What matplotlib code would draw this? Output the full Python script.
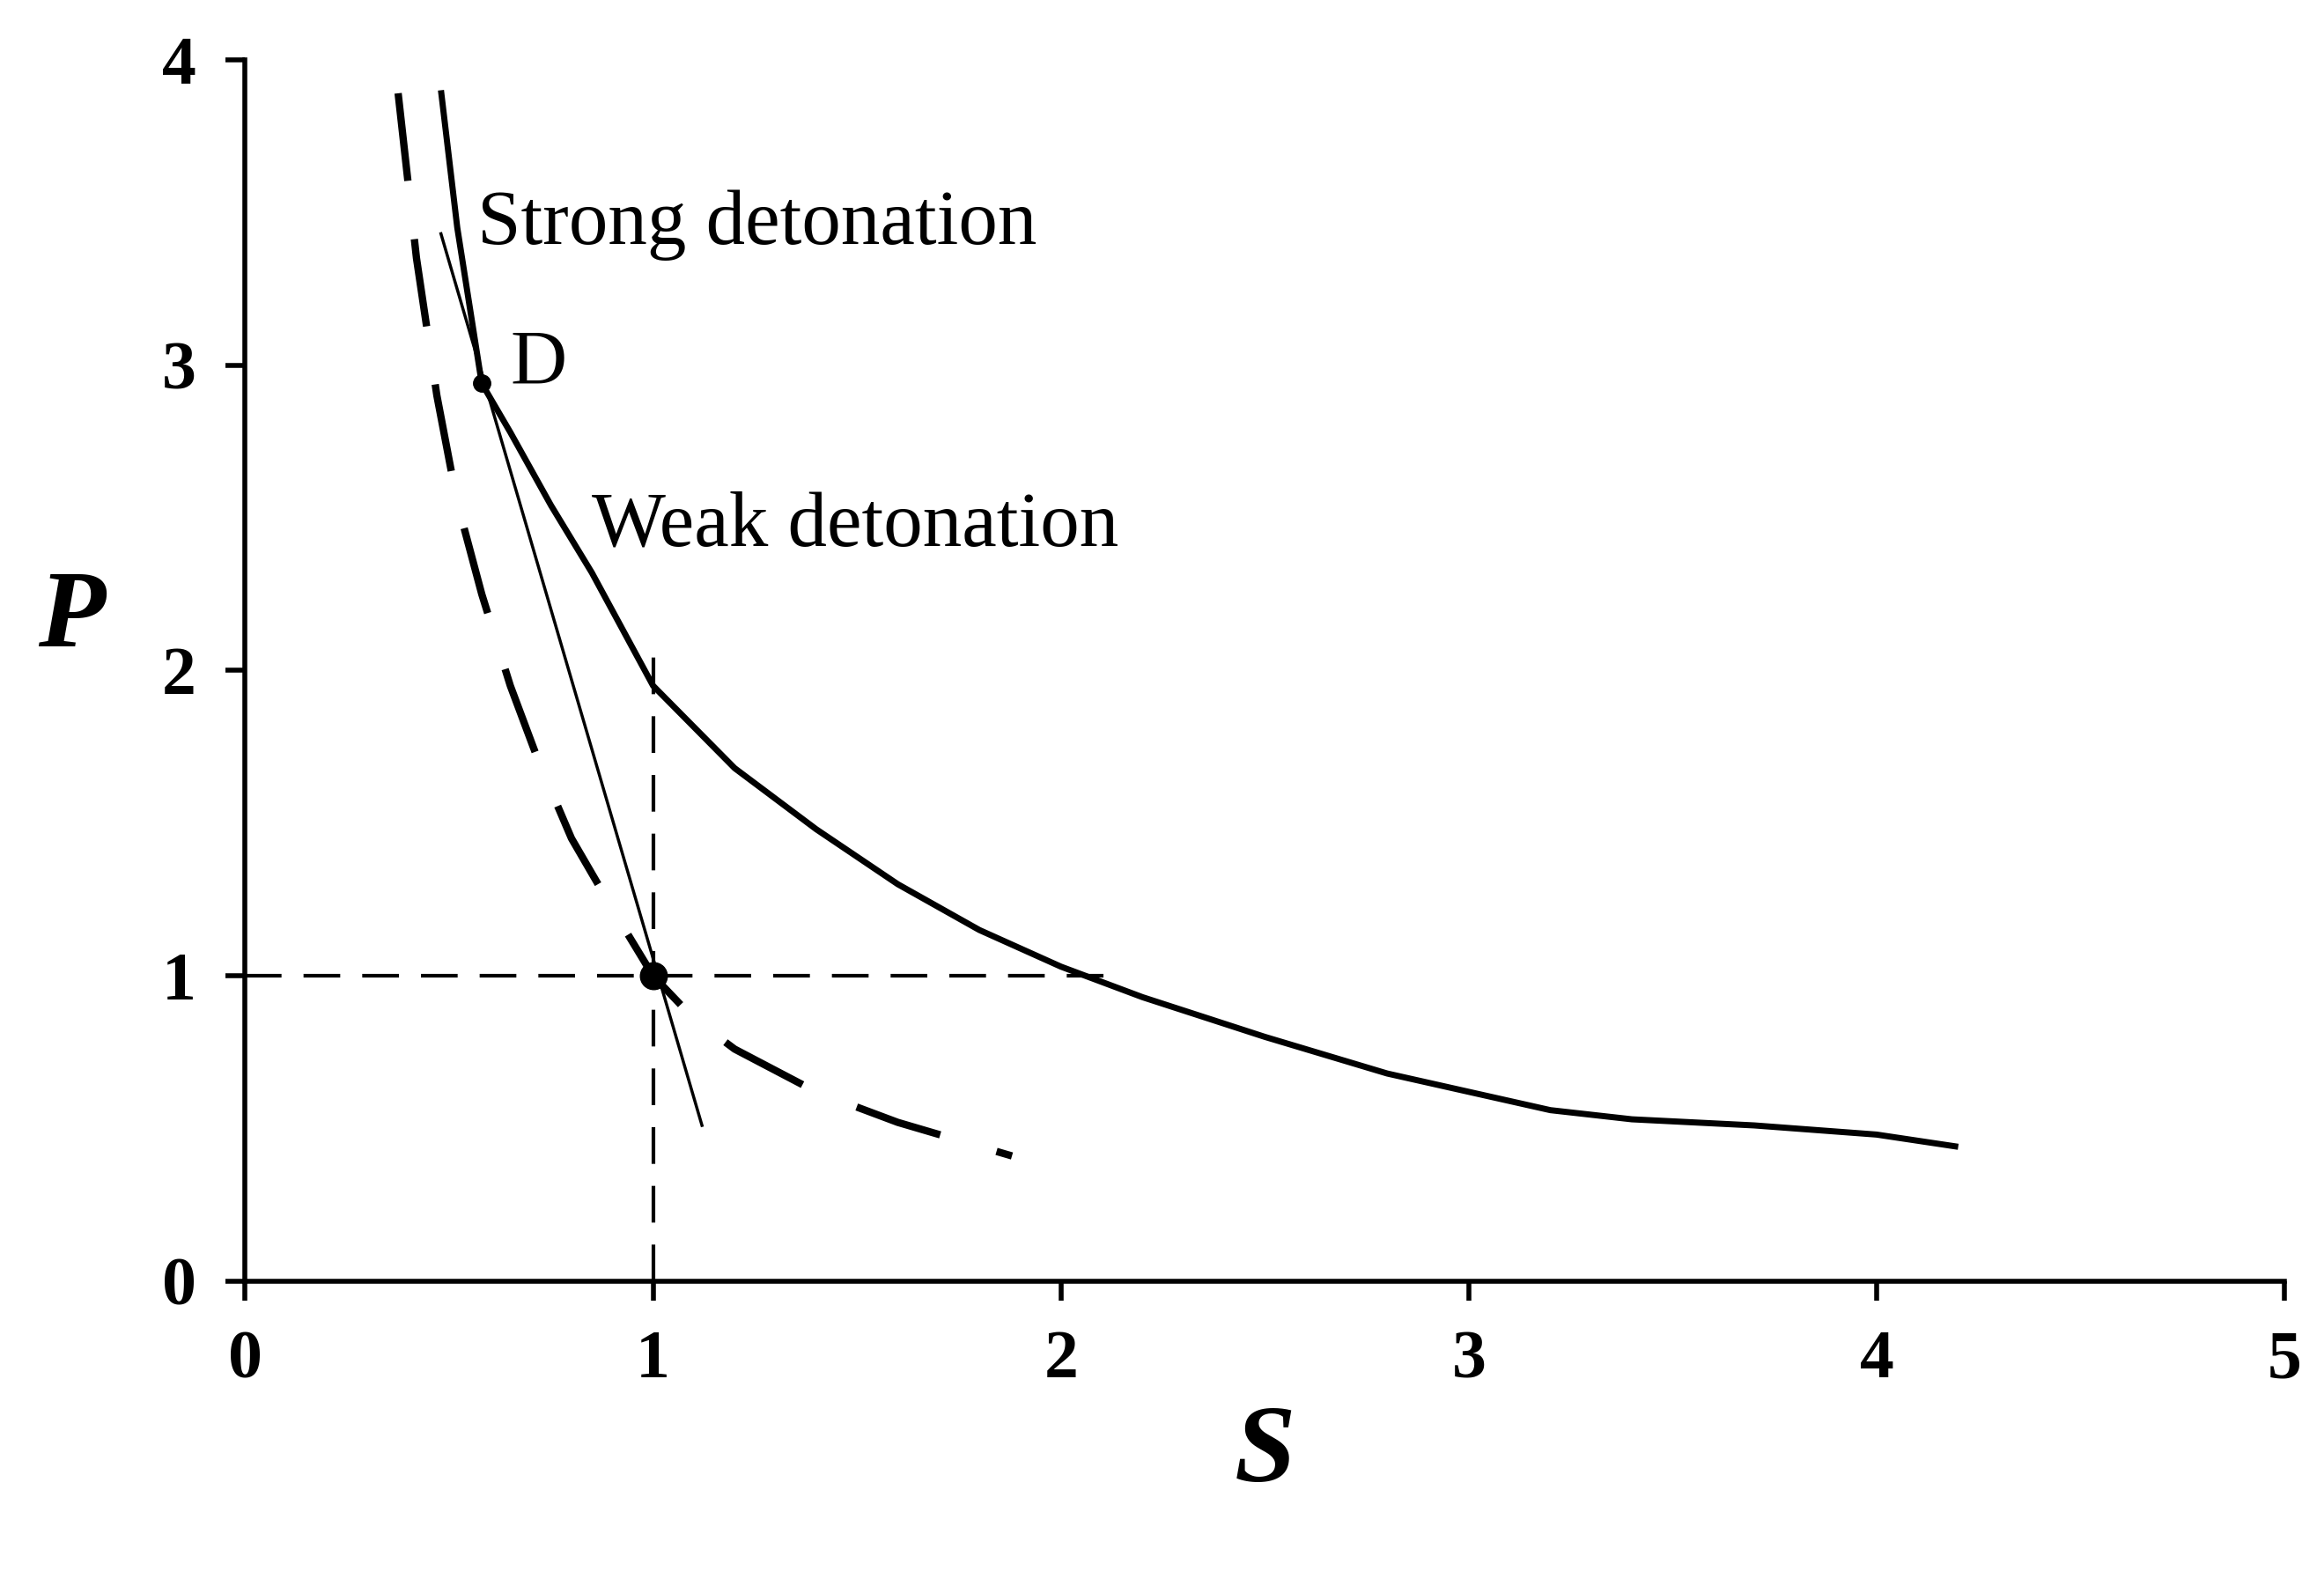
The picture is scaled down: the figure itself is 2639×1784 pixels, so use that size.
import matplotlib.pyplot as plt

# Hugoniot curve (solid)
hug_s = [0.48, 0.52, 0.58, 0.65, 0.75, 0.85, 1.0, 1.2, 1.4, 1.6, 1.8, 2.0, 2.2, 2.5, 2.8,
         3.0, 3.2, 3.4, 3.7, 4.0, 4.2]
hug_p = [3.90, 3.45, 2.94, 2.78, 2.54, 2.32, 1.95, 1.68, 1.48, 1.30, 1.15, 1.03, 0.93, 0.80, 0.68,
         0.62, 0.56, 0.53, 0.51, 0.48, 0.44]

# initial adiabat (long dashes)
adi_s = [0.375, 0.42, 0.47, 0.52, 0.58, 0.65, 0.72, 0.8, 0.9, 1.0, 1.1, 1.2, 1.4, 1.6, 1.88]
adi_p = [3.89, 3.35, 2.90, 2.55, 2.25, 1.95, 1.70, 1.45, 1.22, 1.00, 0.86, 0.76, 0.62, 0.52, 0.41]

# Rayleigh line
ray_s = [0.48, 1.12]
ray_p = [3.43, 0.51]

# points
pt_s = [0.58, 1.0]
pt_p = [2.94, 1.0]

plt.rcParams['font.family'] = ['Liberation Serif', 'DejaVu Serif']

fig = plt.figure(figsize=(26.39, 17.84), dpi=100)
ax = fig.add_axes([0.1055, 0.1845, 0.8775, 0.7775])

ax.plot(hug_s, hug_p, color='black', lw=5, solid_capstyle='butt')
ax.plot(adi_s, adi_p, color='black', lw=6, dashes=(12, 8))
ax.plot(ray_s, ray_p, color='black', lw=2.5)
ax.plot([0, 2.13], [1, 1], color='black', lw=3, dashes=(10, 6))
ax.plot([1, 1], [0, 2.1], color='black', lw=3, dashes=(10, 6))
ax.plot(pt_s[0], pt_p[0], 'o', color='black', ms=14)
ax.plot(pt_s[1], pt_p[1], 'o', color='black', ms=22)

ax.text(0.57, 3.46, 'Strong detonation', fontsize=64, va='center')
ax.text(0.65, 3.0, 'D', fontsize=64, va='center')
ax.text(0.85, 2.47, 'Weak detonation', fontsize=64, va='center')

ax.set_xlim(0, 5)
ax.set_ylim(0, 4)
ax.set_xticks([0, 1, 2, 3, 4, 5])
ax.set_yticks([0, 1, 2, 3, 4])
for sp in ['top', 'right']:
    ax.spines[sp].set_visible(False)
for sp in ['left', 'bottom']:
    ax.spines[sp].set_linewidth(4)
ax.tick_params(width=4, length=16, labelsize=56, pad=24)
for lab in ax.get_xticklabels() + ax.get_yticklabels():
    lab.set_fontweight('bold')

ax.set_xlabel('S', fontsize=90, fontweight='bold', fontstyle='italic', labelpad=10)
ax.set_ylabel('P', fontsize=90, fontweight='bold', fontstyle='italic', rotation=0)
ax.yaxis.set_label_coords(-0.085, 0.5)

fig.savefig('out.png', dpi=100)
